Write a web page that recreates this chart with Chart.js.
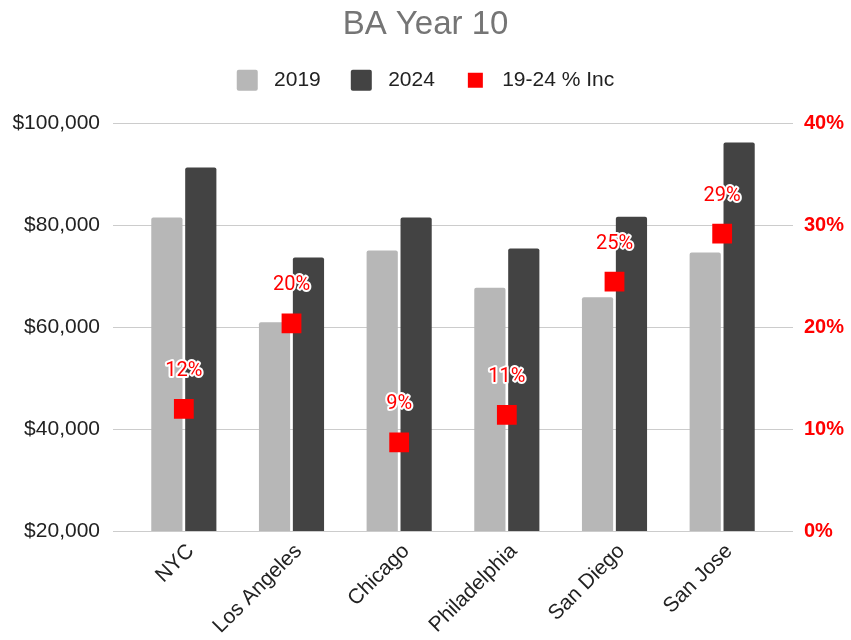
<!DOCTYPE html>
<html>
<head>
<meta charset="utf-8">
<title>BA Year 10</title>
<script src="https://cdn.jsdelivr.net/npm/chart.js@4.4.1/dist/chart.umd.min.js"></script>
<style>
  body { margin: 0; background: #fff; }
  .wrap { width: 851px; height: 640px; }
</style>
</head>
<body>
<div class="wrap"><canvas id="baChart"></canvas></div>
<script>
const cities = ['NYC', 'Los Angeles', 'Chicago', 'Philadelphia', 'San Diego', 'San Jose'];
const pay2019 = [81600, 61000, 75100, 67800, 65900, 74700];
const pay2024 = [91400, 73700, 81600, 75500, 81700, 96300];
const pctInc = [0.12, 0.204, 0.087, 0.114, 0.245, 0.292];

const salaryTicks = [20000, 40000, 60000, 80000, 100000];
const pctTicks = [0, 0.1, 0.2, 0.3, 0.4];

const LABEL_FONT = 'Liberation Sans';

// red % labels with a white halo above each marker
const pctLabels = {
   id: 'pctLabels',
   afterDatasetsDraw(chart) {
      const meta = chart.getDatasetMeta(2);
      const ctx = chart.ctx;
      ctx.save();
      ctx.font = '20px Roboto';
      ctx.textAlign = 'center';
      ctx.textBaseline = 'middle';
      ctx.lineJoin = 'round';
      meta.data.forEach((pt, i) => {
         const txt = Math.round(pctInc[i] * 100) + '%';
         ctx.lineWidth = 4;
         ctx.strokeStyle = '#fff';
         ctx.strokeText(txt, pt.x, pt.y - 38);
         ctx.fillStyle = '#ff0000';
         ctx.fillText(txt, pt.x, pt.y - 38);
      });
      ctx.restore();
   }
};

// extra space between legend and plot
const legendGap = {
   id: 'legendGap',
   beforeInit(chart) {
      const fit = chart.legend.fit;
      chart.legend.fit = function () {
         fit.bind(chart.legend)();
         this.height += 23;
      };
   }
};

const ctx = document.getElementById('baChart').getContext('2d');
const baChart = new Chart(ctx, {
   type: 'bar',
   data: {
      labels: cities,
      datasets: [{
         label: '2019',
         data: pay2019,
         backgroundColor: '#b7b7b7',
         borderRadius: 2,
         yAxisID: 'y',
         order: 1
      }, {
         label: '2024',
         data: pay2024,
         backgroundColor: '#434343',
         borderRadius: 2,
         yAxisID: 'y',
         order: 1
      }, {
         type: 'line',
         label: '19-24 % Inc',
         data: pctInc,
         yAxisID: 'y1',
         showLine: false,
         pointStyle: 'rect',
         pointRadius: 14,
         pointHoverRadius: 14,
         pointBorderWidth: 0,
         borderWidth: 0,
         backgroundColor: '#ff0000',
         borderColor: '#ff0000',
         order: 0
      }]
   },
   options: {
      responsive: true,
      maintainAspectRatio: false,
      animation: false,
      layout: { padding: 0 },
      datasets: {
         bar: { categoryPercentage: 0.63, barPercentage: 0.92 }
      },
      plugins: {
         title: {
            display: true,
            text: 'BA Year 10',
            color: '#757575',
            font: { family: LABEL_FONT, size: 33, weight: 'normal', lineHeight: 0.9 },
            padding: { top: 10, bottom: 0 }
         },
         legend: {
            position: 'top',
            labels: {
               color: '#222',
               font: { family: LABEL_FONT, size: 21 },
               boxWidth: 21,
               boxHeight: 21,
               padding: 30,
               useBorderRadius: true,
               borderRadius: 2,
               sort: (a, b) => a.datasetIndex - b.datasetIndex,
               generateLabels(chart) {
                  const items = Chart.defaults.plugins.legend.labels.generateLabels(chart);
                  items.forEach(item => {
                     item.text = ' ' + item.text;
                     if (item.datasetIndex === 2) {
                        item.fillStyle = '#ff0000';
                        item.strokeStyle = '#fff';
                        item.lineWidth = 6;
                        item.borderRadius = 0;
                     } else {
                        item.lineWidth = 0;
                     }
                  });
                  return items;
               }
            }
         },
         tooltip: { enabled: false }
      },
      scales: {
         x: {
            grid: { display: false },
            border: { display: false },
            ticks: {
               color: '#222',
               font: { family: LABEL_FONT, size: 21 },
               maxRotation: 45,
               minRotation: 45,
               labelOffset: 7,
               padding: 0
            },
            afterFit(scale) { scale.height = 109; }
         },
         y: {
            position: 'left',
            min: 20000,
            max: 100000,
            afterBuildTicks(scale) { scale.ticks = salaryTicks.map(v => ({ value: v })); },
            grid: { color: '#cccccc', tickLength: 17, tickColor: '#cccccc' },
            border: { display: false },
            ticks: {
               color: '#222',
               font: { family: LABEL_FONT, size: 21 },
               padding: 13,
               callback: v => '$' + v.toLocaleString('en-US')
            },
            afterFit(scale) { scale.width = 130; }
         },
         y1: {
            position: 'right',
            min: 0,
            max: 0.4,
            afterBuildTicks(scale) { scale.ticks = pctTicks.map(v => ({ value: v })); },
            grid: { drawOnChartArea: false, color: '#cccccc', tickLength: 17 },
            border: { display: false },
            ticks: {
               color: '#ff0000',
               font: { family: LABEL_FONT, size: 20, weight: 'bold' },
               padding: 11,
               callback: v => Math.round(v * 100) + '%'
            },
            afterFit(scale) { scale.width = 75; }
         }
      }
   },
   plugins: [pctLabels, legendGap]
});
</script>
</body>
</html>
